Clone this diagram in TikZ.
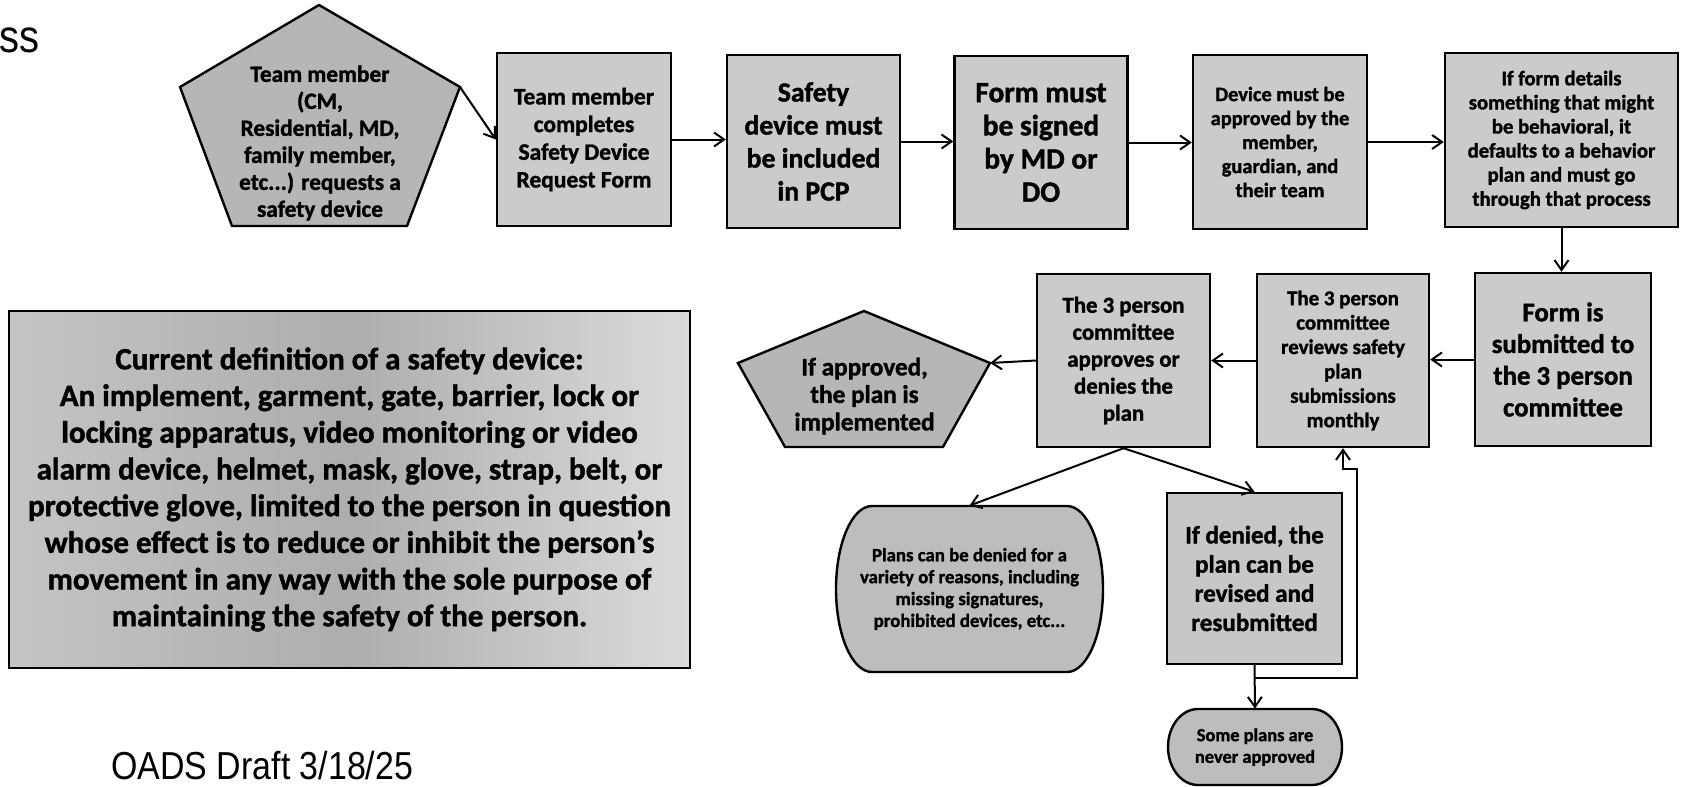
\documentclass[tikz,border=0pt]{standalone}
\usepackage{fontspec}
\usepackage{graphicx}
\newfontfamily\cardfont{Carlito}[BoldFeatures={FakeBold=1.4}]
\newfontfamily\notefont{Liberation Sans}
\usetikzlibrary{arrows.meta}
\definecolor{boxfill}{HTML}{CBCBCB}
\definecolor{pentfill}{HTML}{B6B6B6}
\definecolor{termfill}{HTML}{BDBDBD}
\begin{document}
\begin{tikzpicture}[x=0.5pt, y=-0.5pt,
  card/.style 2 args={font=\cardfont\bfseries\fontsize{#1}{#2}\selectfont, align=center, inner sep=0pt},
  stepbox/.style 2 args={draw, line width=1.2pt, fill=boxfill, minimum width=#1*0.5pt, minimum height=#2*0.5pt},
  pent/.style={draw, line width=1.2pt, fill=pentfill, line join=miter},
  term/.style={draw, line width=1.2pt, fill=termfill},
  flow/.style={line width=1pt, -{Straight Barb[length=5pt, width=7pt, line width=1pt]}},
  note/.style={anchor=base west, inner sep=0pt, font=\notefont\fontsize{#1}{#1}\selectfont},
]
\fill[white] (0,0) rectangle (1683,787);
\useasboundingbox (0,0) rectangle (1683,787);

% header fragment and draft stamp
\node[note=23pt] (hdr) at (-1,52) {\scalebox{0.87}[1]{ss}};
\node[note=19.5pt] (draft) at (111,779) {\scalebox{0.87}[1]{OADS Draft 3/18/25}};

% start: request pentagon
\coordinate (p1t) at (319,5);
\coordinate (p1r) at (460,87);
\coordinate (p1br) at (407,226);
\coordinate (p1bl) at (232,226);
\coordinate (p1l) at (180,87);
\draw[pent] (p1t) -- (p1r) -- (p1br) -- (p1bl) -- (p1l) -- cycle;
\node[card={11.65pt}{13.5pt}] (p1) at (320,143) {Team member\\(CM,\\Residential, MD,\\family member,\\etc...) requests a\\safety device};

% top row of steps
\node[stepbox={174}{173}, card={11.75pt}{13.85pt}] (b2) at (584,139.5) {Team member\\completes\\Safety Device\\Request Form};
\node[stepbox={173}{173}, card={13.85pt}{16.5pt}] (b3) at (813.5,141.5) {Safety\\device must\\be included\\in PCP};
\node[stepbox={173}{173}, card={14.7pt}{16.6pt}] (b4) at (1041,142.5) {Form must\\be signed\\by MD or\\DO};
\node[stepbox={174}{174}, card={10.2pt}{12pt}] (b5) at (1280,142) {Device must be\\approved by the\\member,\\guardian, and\\their team};
\node[stepbox={233}{174}, card={10.35pt}{12.05pt}] (b6) at (1561.5,140) {If form details\\something that might\\be behavioral, it\\defaults to a behavior\\plan and must go\\through that process};

% committee row
\node[stepbox={176}{173}, card={13.4pt}{15.85pt}] (b7) at (1563,359.5) {Form is\\submitted to\\the 3 person\\committee};
\node[stepbox={172}{173}, card={10.45pt}{12.2pt}] (b8) at (1343,360.5) {The 3 person\\committee\\reviews safety\\plan\\submissions\\monthly};
\node[stepbox={173}{173}, card={11.4pt}{13.5pt}] (b9) at (1123.5,360.5) {The 3 person\\committee\\approves or\\denies the\\plan};

% end: approval pentagon
\coordinate (p2t) at (864,311);
\coordinate (p2r) at (990,363);
\coordinate (p2br) at (943,447);
\coordinate (p2bl) at (785,447);
\coordinate (p2l) at (738,363);
\draw[pent] (p2t) -- (p2r) -- (p2br) -- (p2bl) -- (p2l) -- cycle;
\node[card={12.6pt}{13.75pt}] (p2) at (864.5,396) {If approved,\\the plan is\\implemented};

% denial outcomes
\draw[term] (872,506) -- (1067,506) arc[start angle=90, end angle=-90, x radius=18pt, y radius=41.5pt]
  -- (872,672) arc[start angle=270, end angle=90, x radius=18pt, y radius=41.5pt] -- cycle;
\node[minimum width=133.5pt, minimum height=83pt, card={9.4pt}{10.95pt}] (b10) at (969.5,589) {Plans can be denied for a\\variety of reasons, including\\missing signatures,\\prohibited devices, etc...};

\node[stepbox={175}{171}, fill=termfill!85!white, card={12.5pt}{14.6pt}] (b11) at (1254.5,578.5) {If denied, the\\plan can be\\revised and\\resubmitted};

\draw[term] (1198,709) -- (1312,709) arc[start angle=90, end angle=-90, x radius=15pt, y radius=19pt]
  -- (1198,785) arc[start angle=270, end angle=90, x radius=15pt, y radius=19pt] -- cycle;
\node[minimum width=87pt, minimum height=38pt, card={9.2pt}{10.85pt}] (b12) at (1255,747) {Some plans are\\never approved};

% definition panel
\node[draw, line width=1.2pt, minimum width=340.5pt, minimum height=178.5pt,
  left color=black!23, right color=black!14, middle color=black!32,
  card={15.5pt}{18.35pt}] (defn) at (349.5,489.5)
  {Current definition of a safety device:\\An implement, garment, gate, barrier, lock or\\locking apparatus, video monitoring or video\\alarm device, helmet, mask, glove, strap, belt, or\\protective glove, limited to the person in question\\whose effect is to reduce or inhibit the person’s\\movement in any way with the sole purpose of\\maintaining the safety of the person.};

% connectors
\draw[flow] (p1r) -- (b2.west);
\draw[flow] (b2.east) -- (b2.east -| b3.west);
\draw[flow] (b3.east) -- (b3.east -| b4.west);
\draw[flow] (b4.east) -- (b4.east -| b5.west);
\draw[flow] (b5.east) -- (b5.east -| b6.west);
\draw[flow] (b6.south) -- (b6.south |- b7.north);
\draw[flow] (b7.west) -- (b7.west -| b8.east);
\draw[flow] (b8.west) -- (b8.west -| b9.east);
\draw[flow] (b9.west) -- (p2r);
\draw[flow] (b9.south) -- (b10.north);
\draw[flow] (b9.south) -- (b11.north);
\draw[flow] (b11.south) -- (b12.north);
\coordinate (split) at (1254.5,678);
\coordinate (bend) at (1357,469);
\draw[flow] (split) -| (bend) -| (b8.south);
\end{tikzpicture}
\end{document}
